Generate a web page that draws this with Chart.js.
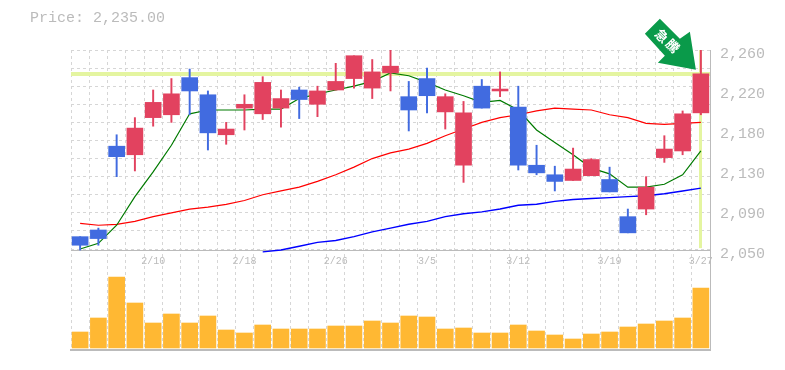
<!DOCTYPE html>
<html>
<head>
<meta charset="utf-8">
<style>html,body{margin:0;padding:0;background:#fff}#w{width:785px;height:370px}</style>
<script src="https://cdn.jsdelivr.net/npm/chart.js@4"></script>
</head>
<body>
<div id="w"><canvas id="c" width="785" height="370"></canvas></div>
<script>
const categories = ['','','','','2/10','','','','','2/18','','','','','2/26','','','','','3/5','','','','','3/12','','','','','3/19','','','','','3/27'];
const opens  = [2064,2071,2159,2150,2189,2192,2231,2213,2171,2199,2193,2199,2218,2203,2218,2230,2220,2236,2211,2230,2195,2139,2222,2217,2200,2139,2129,2123,2128,2124,2085,2093,2147,2154,2194];
const highs  = [2064,2073,2171,2189,2218,2230,2240,2217,2184,2213,2232,2218,2221,2222,2246,2254,2250,2260,2227,2241,2214,2206,2229,2237,2222,2160,2138,2157,2146,2137,2093,2127,2170,2196,2260];
const lows   = [2050,2055,2127,2133,2180,2184,2192,2155,2161,2176,2187,2179,2188,2190,2218,2220,2209,2217,2175,2194,2177,2121,2199,2211,2134,2129,2112,2123,2128,2111,2068,2087,2142,2150,2192];
const closes = [2055,2062,2148,2178,2205,2214,2217,2173,2177,2203,2226,2209,2208,2217,2227,2254,2237,2243,2197,2212,2211,2194,2199,2219,2139,2131,2122,2135,2145,2111,2068,2116,2156,2193,2235];
const maShort = [2051,2057,2076,2106,2132,2160,2193,2197,2197,2197,2198,2198,2209,2214,2218,2222,2227,2236,2233,2226,2218,2212,2205,2207,2197,2176,2163,2150,2136,2130,2116,2116,2119,2129,2154];
const maMid   = [2078,2076,2077,2080,2085,2089,2093,2095,2098,2102,2108,2112,2116,2122,2129,2137,2146,2152,2156,2162,2170,2177,2184,2189,2192,2196,2199,2198,2197,2192,2189,2183,2182,2183,2184];
const maLong  = [null,null,null,null,null,null,null,null,null,null,2048,2050,2054,2058,2060,2064,2069,2073,2077,2080,2085,2088,2090,2093,2097,2098,2101,2103,2104,2105,2106,2107,2109,2112,2115];
const volumes = [16,30,71,45,25,34,25,32,18,15,23,19,19,19,22,22,27,25,32,31,19,20,15,15,23,17,13,9,14,16,21,24,27,30,60];
const priceTickValues = [2260,2218,2176,2134,2092,2050];
const priceTickLabels = ['2,260','2,220','2,180','2,130','2,090','2,050'];
const gridValues = [2260,2241,2222,2203,2184,2165,2146,2127,2108,2089,2070,2051];
const lastPrice = 2235;
const titleText = 'Price: 2,235.00';
const arrowText = ['急','騰'];

const UP = '#e2425f', DOWN = '#416be0', GREY = '#bbbbbb', GRID = '#d6d6d6', MARK = '#e4f5a0', MONO = '"Liberation Mono", monospace';
const candleColors = closes.map((c, i) => c >= opens[i] ? UP : DOWN);

const backdrop = {
  id: 'backdrop',
  beforeDatasetsDraw(chart) {
    const { ctx, chartArea: a, scales: { x, y } } = chart;
    const px = x.getPixelForValue(categories.length - 1), py = y.getPixelForValue(lastPrice);
    ctx.save();
    ctx.fillStyle = MARK;
    ctx.fillRect(a.left, Math.round(py) - 2, a.right - a.left, 4);
    ctx.fillRect(Math.round(px) - 2, a.top, 3, y.getPixelForValue(2052) - a.top);
    ctx.restore();
  }
};
const arrow = {
  id: 'arrow',
  afterDatasetsDraw(chart) {
    const { ctx, scales: { x, y } } = chart;
    const tx = x.getPixelForValue(categories.length - 1) - 5, ty = y.getPixelForValue(lastPrice) - 4;
    const pts = [[0,0],[-38,-7],[-31,-14],[-51,-36],[-36,-51],[-16,-31],[-6,-38]];
    ctx.save();
    ctx.fillStyle = '#0a9a4a';
    ctx.beginPath();
    pts.forEach((p, i) => i ? ctx.lineTo(tx + p[0], ty + p[1]) : ctx.moveTo(tx + p[0], ty + p[1]));
    ctx.closePath();
    ctx.fill();
    ctx.fillStyle = '#fff';
    ctx.font = 'bold 13px "Noto Sans CJK JP"';
    ctx.textAlign = 'center';
    ctx.textBaseline = 'middle';
    [[-34,-34],[-23,-24]].forEach((o, i) => {
      ctx.save();
      ctx.translate(tx + o[0], ty + o[1]);
      ctx.rotate(Math.PI / 4);
      ctx.fillText(arrowText[i], 0, 0);
      ctx.restore();
    });
    ctx.restore();
  }
};

new Chart(document.getElementById('c'), {
  data: {
    labels: categories,
    datasets: [
      { type: 'bar', order: 1, yAxisID: 'y', data: opens.map((o, i) => [o, closes[i]]), backgroundColor: candleColors, barThickness: 16, grouped: false },
      { type: 'bar', order: 2, yAxisID: 'y', data: lows.map((l, i) => [l, highs[i]]), backgroundColor: candleColors, barThickness: 1.3, grouped: false },
      { type: 'line', order: 3, yAxisID: 'y', data: maShort, borderColor: '#007a00', borderWidth: 1.2, pointRadius: 0, tension: 0 },
      { type: 'line', order: 4, yAxisID: 'y', data: maMid, borderColor: '#ff0000', borderWidth: 1.2, pointRadius: 0, tension: 0 },
      { type: 'line', order: 5, yAxisID: 'y', data: maLong, borderColor: '#0000ff', borderWidth: 1.4, pointRadius: 0, tension: 0 },
      { type: 'bar', order: 6, yAxisID: 'vol', data: volumes, backgroundColor: '#ffb833', barThickness: 16, grouped: false }
    ]
  },
  options: {
    responsive: false,
    animation: false,
    events: [],
    layout: { padding: { left: 30, right: 0, top: 9, bottom: 20 } },
    plugins: {
      legend: { display: false },
      tooltip: { enabled: false },
      title: { display: true, text: titleText, align: 'start', color: GREY, font: { family: MONO, size: 15, weight: 'normal' }, padding: { top: 0, bottom: 23 } }
    },
    scales: {
      x: {
        type: 'category', position: { y: 2050 }, offset: true,
        grid: { offset: true, color: GRID, drawTicks: false, tickLength: 0 },
        border: { color: GREY, dash: [3, 3] },
        ticks: { autoSkip: false, maxRotation: 0, color: GREY, font: { family: MONO, size: 10 }, padding: 5 }
      },
      xEdge: {
        type: 'category', axis: 'x', position: 'bottom', offset: true,
        grid: { display: false, drawTicks: false },
        border: { color: GREY, width: 2 },
        ticks: { display: false }
      },
      y: {
        type: 'linear', position: 'left', min: 1945, max: 2260,
        afterFit(s) { s.width = 41; },
        afterBuildTicks(s) { s.ticks = gridValues.map(value => ({ value })); },
        grid: { color: GRID, drawTicks: false },
        border: { display: false, dash: [3, 3] },
        ticks: { display: false }
      },
      priceLabels: {
        type: 'linear', position: 'right', min: 1945, max: 2260,
        afterFit(s) { s.width = 75; },
        afterBuildTicks(s) { s.ticks = priceTickValues.map(value => ({ value })); },
        grid: { display: false, drawTicks: false },
        border: { color: GREY },
        ticks: {
          color: GREY, font: { family: MONO, size: 15 }, padding: 10, labelOffset: 4,
          callback(v) { return priceTickLabels[priceTickValues.indexOf(v)]; }
        }
      },
      vol: { type: 'linear', display: false, min: -2, max: 298 }
    }
  },
  plugins: [backdrop, arrow]
});
</script>
</body>
</html>
